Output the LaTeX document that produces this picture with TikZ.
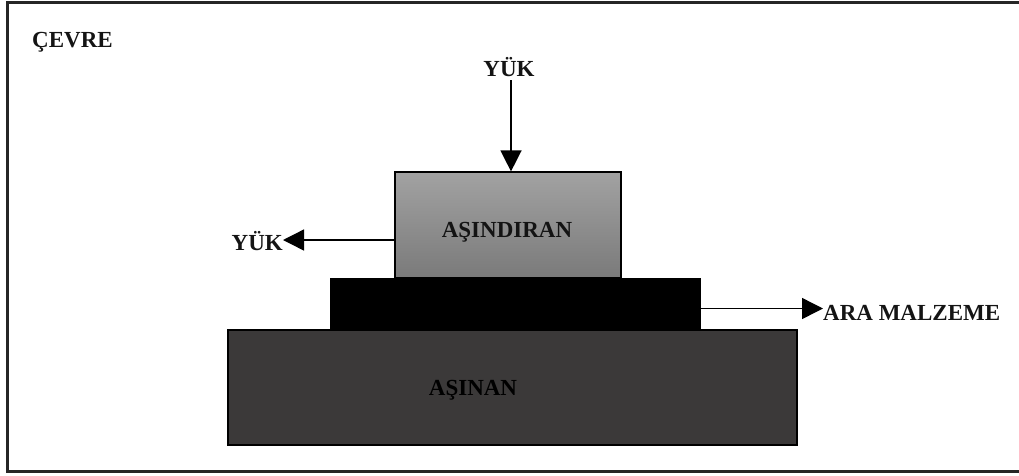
\documentclass[tikz,border=0pt]{standalone}
\usepackage{fontspec}
\setmainfont{Liberation Serif}
\usetikzlibrary{arrows.meta}

\definecolor{abrTop}{RGB}{162,162,162}
\definecolor{abrBot}{RGB}{122,122,122}
\definecolor{wornFill}{RGB}{59,57,57}
\definecolor{labelInk}{RGB}{20,20,20}

\tikzset{
  lbl/.style={inner sep=0pt, font=\fontsize{23}{27}\selectfont\bfseries, text=labelInk},
  layer/.style={draw=black, inner sep=0pt, minimum width=#1},
  flow/.style={line width=1.4pt, -{Triangle[length=21pt,width=21pt]}},
}

\begin{document}
\begin{tikzpicture}[x=1pt,y=-1pt]
  \useasboundingbox (0,0) rectangle (1019,475);

  % surrounding frame, open to the right
  \draw[line width=2.4pt, draw=black!85]
    (1030,2.5) -- (7.5,2.5) -- (7.5,471.5) -- (1030,471.5);

  \node[lbl, anchor=base west] (cevre) at (32,47) {ÇEVRE};

  % worn body (bottom)
  \node[layer=569pt, minimum height=115pt, line width=2.6pt, fill=wornFill]
    (asinan) at (512.5,387.5) {};
  \node[lbl, anchor=base, text=black] (asinanTxt) at (473,395) {AŞINAN};

  % interlayer (middle)
  \node[layer=370pt, minimum height=52pt, fill=black]
    (ara) at (515,304) {};

  % abrasive body (top)
  \node[layer=226pt, minimum height=106pt, line width=1.2pt,
        top color=abrTop, bottom color=abrBot]
    (asindiran) at (508,225) {};
  \node[lbl, anchor=base] (asindiranTxt) at (507,237) {AŞINDIRAN};

  % loads and interlayer output
  \node[lbl, anchor=base] (yukTop) at (509,76) {YÜK};
  \draw[flow] ([yshift=-4pt]yukTop.south -| asindiran.north) ++(3,0) coordinate (yA)
    -- ([xshift=3pt]asindiran.north);

  \node[lbl, anchor=base east] (yukLeft) at (283,250) {YÜK};
  \coordinate (lA) at (asindiran.west |- 0,240);
  \draw[flow] (lA) -- (yukLeft.east |- lA);

  \node[lbl, anchor=base west] (araTxt) at (823,320) {ARA MALZEME};
  \coordinate (rA) at (ara.east |- 0,308.5);
  \draw[flow] (rA) -- (araTxt.west |- rA);
\end{tikzpicture}
\end{document}
